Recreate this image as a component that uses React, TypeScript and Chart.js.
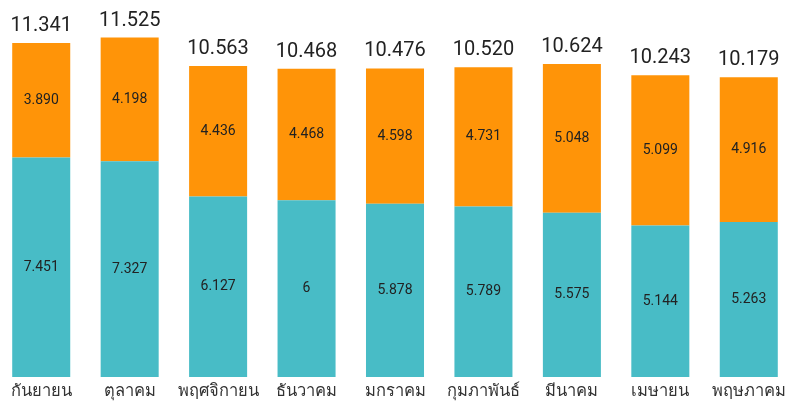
import React, { useEffect, useRef } from "react";
import { Chart, registerables } from "chart.js";

Chart.register(...registerables);

const categories = ["กันยายน", "ตุลาคม", "พฤศจิกายน", "ธันวาคม", "มกราคม", "กุมภาพันธ์", "มีนาคม", "เมษายน", "พฤษภาคม"];
const tealValues = [7.451, 7.327, 6.127, 6, 5.878, 5.789, 5.575, 5.144, 5.263];
const orangeValues = [3.89, 4.198, 4.436, 4.468, 4.598, 4.731, 5.048, 5.099, 4.916];
const totals = [11.341, 11.525, 10.563, 10.468, 10.476, 10.52, 10.624, 10.243, 10.179];

const FONT = "Roboto, 'Noto Sans', sans-serif";
const fmt = (v: number) => (Number.isInteger(v) ? String(v) : v.toFixed(3));

const labelPlugin = {
  id: "labels",
  afterDatasetsDraw(chart: any) {
    const ctx = chart.ctx;
    ctx.save();
    ctx.textAlign = "center";
    const xScale = chart.scales.x;
    const bottom = chart.chartArea.bottom;
    ctx.font = `16.5px ${FONT}`;
    ctx.fillStyle = "#333";
    ctx.textBaseline = "alphabetic";
    (chart.data.labels as string[]).forEach((lab, i) => {
      ctx.fillText(lab, xScale.getPixelForValue(i), bottom + 19);
    });
    chart.data.datasets.forEach((ds: any, di: number) => {
      const meta = chart.getDatasetMeta(di);
      meta.data.forEach((bar: any, i: number) => {
        const mid = (bar.y + bar.base) / 2;
        ctx.font = `14px ${FONT}`;
        ctx.fillStyle = "#222";
        ctx.textBaseline = "middle";
        ctx.fillText(fmt(ds.data[i]), bar.x, mid);
        if (di === chart.data.datasets.length - 1) {
          ctx.font = `20px ${FONT}`;
          ctx.fillStyle = "#222";
          ctx.textBaseline = "alphabetic";
          ctx.fillText(fmt(totals[i]), bar.x, bar.y - 12);
        }
      });
    });
    ctx.restore();
  },
};

export default function App() {
  const ref = useRef<HTMLCanvasElement>(null);
  useEffect(() => {
    const chart = new Chart(ref.current!, {
      type: "bar",
      data: {
        labels: categories,
        datasets: [
          { data: tealValues, backgroundColor: "#48bcc6", borderWidth: 0 },
          { data: orangeValues, backgroundColor: "#ff9408", borderWidth: 0 },
        ],
      },
      options: {
        animation: false,
        responsive: false,
        maintainAspectRatio: false,
        layout: { padding: { top: 0, left: 0, right: 0, bottom: 32 } },
        datasets: { bar: { categoryPercentage: 1, barPercentage: 0.656 } },
        plugins: { legend: { display: false }, tooltip: { enabled: false } },
        scales: {
          x: { stacked: true, display: false },
          y: { stacked: true, display: false, min: 0, max: 12.8 },
        },
      },
      plugins: [labelPlugin],
    });
    return () => chart.destroy();
  }, []);
  return (
    <div style={{ position: "absolute", left: -3, top: 0, width: 796, height: 409 }}>
      <canvas ref={ref} width={796} height={409} style={{ width: 796, height: 409 }} />
    </div>
  );
}
